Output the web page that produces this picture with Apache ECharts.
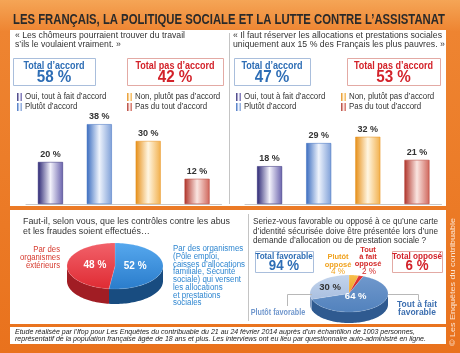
<!DOCTYPE html>
<html>
<head>
<meta charset="utf-8">
<script src="https://cdn.jsdelivr.net/npm/echarts@6/dist/echarts.min.js"></script>
<style>
html, body { margin: 0; padding: 0; background: #ec7a22; }
#chart { width: 460px; height: 353px; }
</style>
</head>
<body>
<div id="chart"></div>
<script>
// données du sondage
const titre = 'LES FRANÇAIS, LA POLITIQUE SOCIALE ET LA LUTTE CONTRE L’ASSISTANAT';
const reponses = ['Oui, tout à fait d’accord', 'Plutôt d’accord', 'Non, plutôt pas d’accord', 'Pas du tout d’accord'];
const totauxLibelles = ['Total d’accord', 'Total pas d’accord'];

const chomeursQuestion = ['« Les chômeurs pourraient trouver du travail', 's’ils le voulaient vraiment. »'];
const chomeursValeurs = [20, 38, 30, 12];
const chomeursTotaux = [58, 42];

const reserverQuestion = ['« Il faut réserver les allocations et prestations sociales', 'uniquement aux 15 % des Français les plus pauvres. »'];
const reserverValeurs = [18, 29, 32, 21];
const reserverTotaux = [47, 53];

const controlesQuestion = ['Faut-il, selon vous, que les contrôles contre les abus', 'et les fraudes soient effectués…'];
const controlesInternes = ['Par des organismes', '(Pôle emploi,', 'caisses d’allocations', 'familiale, Sécurité', 'sociale) qui versent', 'les allocations', 'et prestations', 'sociales'];
const controlesExternes = ['Par des', 'organismes', 'extérieurs'];
const controlesValeurs = [52, 48];

const carteQuestion = ['Seriez-vous favorable ou opposé à ce qu’une carte', 'd’identité sécurisée doive être présentée lors d’une', 'demande d’allocation ou de prestation sociale ?'];
const carteLibelles = ['Plutôt opposé', 'Tout à fait opposé', 'Tout à fait favorable', 'Plutôt favorable'];
const carteValeurs = [4, 2, 64, 30];
const carteTotaux = [94, 6];
const carteTotauxLibelles = ['Total favorable', 'Total opposé'];

const source = [
  'Etude réalisée par l’Ifop pour Les Enquêtes du contribuable du 21 au 24 février 2014 auprès d’un échantillon de 1003 personnes,',
  'représentatif de la population française âgée de 18 ans et plus. Les interviews ont eu lieu par questionnaire auto-administré en ligne.'
];
const copyright = '© Les Enquêtes du contribuable';

// styles
const FONT = '"Liberation Sans", Arial, sans-serif';
const BLEU = '#2d6db5';
const ROUGE = '#d3222a';
const barCouleurs = [
  ['#2c2774', '#f3f2fb', '#6a63ad'],
  ['#3a6cbf', '#eef3fc', '#7fa0d8'],
  ['#e68f18', '#fff6e2', '#f2b04c'],
  ['#b0352b', '#fae5e1', '#cf665b']
];

const ctx = document.createElement('canvas').getContext('2d');
function largeur(text, font) { ctx.font = font; return ctx.measureText(text).width; }

function texte(x, y, text, o) {
  const font = (o.italic ? 'italic ' : '') + (o.weight || 'normal') + ' ' + o.size + 'px ' + FONT;
  const sx = o.sx || (o.w ? o.w / largeur(text, font) : 1);
  const align = o.align || 'left';
  return {
    type: 'text', x: x, y: y, scaleX: sx, rotation: o.rot || 0, z: 50,
    style: { text: text, font: font, fill: o.color || '#333', textAlign: align, align: align, textVerticalAlign: 'middle', verticalAlign: 'middle' }
  };
}
function lignes(x, y0, dy, arr, o, ref) {
  const font = (o.italic ? 'italic ' : '') + (o.weight || 'normal') + ' ' + o.size + 'px ' + FONT;
  const sx = o.w ? o.w / largeur(arr[ref || 0], font) : 1;
  return arr.map((t, i) => texte(x, y0 + i * dy, t, Object.assign({}, o, { sx: sx })));
}
function rect(x, y, w, h, fill, stroke, z) {
  return { type: 'rect', z: z == null ? -5 : z, shape: { x: x, y: y, width: w, height: h }, style: { fill: fill, stroke: stroke || null, lineWidth: 1 } };
}
function ligne(points, color) {
  return { type: 'polyline', z: 40, shape: { points: points }, style: { stroke: color || '#b8b8b8', lineWidth: 1, fill: null } };
}
function degrade(c) {
  return new echarts.graphic.LinearGradient(0, 0, 1, 0, [
    { offset: 0, color: c[0] }, { offset: 0.5, color: c[1] }, { offset: 1, color: c[2] }
  ]);
}

function boite(x, y, w, h, libelle, valeur, couleur, bord, sizes) {
  return [
    rect(x + 0.5, y + 0.5, w, h, '#fff', bord, 30),
    texte(x + w / 2, y + sizes[2], libelle, { size: sizes[0], weight: 'bold', color: couleur, align: 'center', sx: 0.86 }),
    texte(x + w / 2, y + sizes[3], valeur + ' %', { size: sizes[1], weight: 'bold', color: couleur, align: 'center', sx: 0.95 })
  ];
}

function legende(x1, x2, y1, y2) {
  const pos = [[x1, y1], [x1, y2], [x2, y1], [x2, y2]];
  const out = [];
  reponses.forEach((r, i) => {
    out.push({ type: 'rect', z: 40, shape: { x: pos[i][0], y: pos[i][1] - 4, width: 5, height: 8 }, style: { fill: degrade(barCouleurs[i]) } });
    out.push(texte(pos[i][0] + 8, pos[i][1], r, { size: 8.5, color: '#333', sx: 0.93 }));
  });
  return out;
}

const g = [];
g.push(rect(0, 0, 460, 353, new echarts.graphic.LinearGradient(0, 0, 0, 1, [
  { offset: 0, color: '#f5a556' }, { offset: 0.09, color: '#ee8431' }, { offset: 1, color: '#e9721d' }
]), null, -10));
g.push(rect(10, 30, 436, 176, '#fff'));
g.push(rect(10, 210, 436, 114, '#fff'));
g.push(rect(10, 327, 436, 17, '#fff'));
g.push(ligne([[229.5, 33], [229.5, 204]], '#c4c4c4'));
g.push(ligne([[248.5, 214], [248.5, 321]], '#c4c4c4'));

g.push(texte(13, 20.5, titre, { size: 14, weight: 'bold', color: '#2a2a2a', w: 432 }));

// panneau haut gauche
g.push(...lignes(15, 35, 9, chomeursQuestion, { size: 9.5, color: '#333', w: 170 }));
g.push(...boite(13, 58, 82, 27, totauxLibelles[0], chomeursTotaux[0], BLEU, '#a9bedc', [10.5, 16, 8, 20]));
g.push(...boite(127, 58, 96, 27, totauxLibelles[1], chomeursTotaux[1], ROUGE, '#e3aaa4', [10.5, 16, 8, 20]));
g.push(...legende(17, 127, 97, 107));

// panneau haut droit
g.push(...lignes(233, 35, 9, reserverQuestion, { size: 9.5, color: '#333', w: 209 }));
g.push(...boite(234, 58, 76, 27, totauxLibelles[0], reserverTotaux[0], BLEU, '#a9bedc', [10.5, 16, 8, 20]));
g.push(...boite(347, 58, 93, 27, totauxLibelles[1], reserverTotaux[1], ROUGE, '#e3aaa4', [10.5, 16, 8, 20]));
g.push(...legende(236, 341, 97, 107));

// panneau bas gauche
g.push(...lignes(23, 221, 10.5, controlesQuestion, { size: 9.5, color: '#333', w: 207 }));
g.push(...lignes(60, 250, 8, controlesExternes, { size: 9, color: '#d63a2e', align: 'right', w: 40 }, 1));
g.push(...lignes(173, 249, 7.7, controlesInternes, { size: 8.5, color: '#2e86d0', w: 72 }, 2));

// panneau bas droit
g.push(...lignes(253, 221.5, 9.5, carteQuestion, { size: 9.5, color: '#333', w: 185 }, 1));
g.push(...boite(255, 251, 58, 21, carteTotauxLibelles[0], carteTotaux[0], BLEU, '#a9bedc', [9.5, 14, 5.5, 15]));
g.push(...boite(392, 251, 50, 21, carteTotauxLibelles[1], carteTotaux[1], ROUGE, '#e3aaa4', [9.5, 14, 5.5, 15]));
g.push(...lignes(338, 257, 7.5, ['Plutôt', 'opposé'], { size: 7.5, weight: 'bold', color: '#f0a21e', align: 'center', sx: 0.9 }));
g.push(texte(338, 272, carteValeurs[0] + ' %', { size: 9, color: '#f0a21e', align: 'center', sx: 0.9 }));
g.push(...lignes(368, 250, 7, ['Tout', 'à fait', 'opposé'], { size: 7.5, weight: 'bold', color: '#d42a2a', align: 'center', sx: 0.9 }));
g.push(texte(369, 272, carteValeurs[1] + ' %', { size: 9, color: '#d42a2a', align: 'center', sx: 0.9 }));
g.push(ligne([[312, 294.5], [287.5, 294.5], [287.5, 306]]));
g.push(ligne([[388, 294.5], [418.5, 294.5], [418.5, 300]]));
g.push(texte(278, 313, carteLibelles[3], { size: 8.5, weight: 'bold', color: '#7097cd', align: 'center', sx: 0.85 }));
g.push(...lignes(417, 305, 7.5, ['Tout à fait', 'favorable'], { size: 8.5, weight: 'bold', color: '#3d6fb0', align: 'center', sx: 0.85 }));

// source et copyright
g.push(...lignes(15, 331.5, 7, source, { size: 7.5, italic: true, color: '#222', w: 400 }));
g.push(texte(453, 346, copyright, { size: 7.5, color: '#fbe3cf', rot: Math.PI / 2, w: 128 }));

function barres(valeurs, idx) {
  return {
    type: 'bar', xAxisIndex: idx, yAxisIndex: idx, barWidth: 25, silent: true,
    data: valeurs.map((v, i) => ({ value: v, itemStyle: { color: degrade(barCouleurs[i]), borderColor: barCouleurs[i][0], borderWidth: 0.5 } })),
    label: { show: true, position: 'top', distance: 3, formatter: '{c} %', fontSize: 9, fontWeight: 'bold', color: '#333', fontFamily: FONT }
  };
}

// camembert en perspective
function camembert(valeurs, faces, cotes, geo, etiquettes) {
  const total = valeurs.reduce((a, b) => a + b, 0);
  const debuts = [];
  let acc = 0;
  valeurs.forEach(v => { debuts.push(acc); acc += v; });
  const pt = (a, dy) => [geo.cx + geo.rx * Math.cos(a), geo.cy - geo.ry * Math.sin(a) + dy];
  const arc = (a, b, dy) => {
    const n = Math.max(2, Math.ceil(Math.abs(b - a) / 0.04));
    const pts = [];
    for (let k = 0; k <= n; k++) pts.push(pt(a + (b - a) * k / n, dy));
    return pts;
  };
  return {
    type: 'custom', coordinateSystem: 'none', silent: true, z: 5,
    data: valeurs.map(v => [v]),
    renderItem: (params, api) => {
      const i = params.dataIndex;
      const a0 = Math.PI / 2 - debuts[i] / total * 2 * Math.PI;
      const a1 = a0 - api.value(0) / total * 2 * Math.PI;
      const children = [];
      [-1, 0].forEach(k => {
        const lo = Math.max(a1, -Math.PI + 2 * Math.PI * k);
        const hi = Math.min(a0, 2 * Math.PI * k);
        if (lo < hi) {
          children.push({ type: 'polygon', shape: { points: arc(hi, lo, 0).concat(arc(lo, hi, geo.h)) }, style: { fill: cotes[i] } });
        }
      });
      children.push({
        type: 'polygon',
        shape: { points: [[geo.cx, geo.cy]].concat(arc(a0, a1, 0)) },
        style: { fill: new echarts.graphic.LinearGradient(0, 0, 0, 1, [{ offset: 0, color: faces[i][0] }, { offset: 1, color: faces[i][1] }]), stroke: 'rgba(255,255,255,0.25)', lineWidth: 0.5 }
      });
      const e = etiquettes[i];
      if (e) {
        const m = (a0 + a1) / 2;
        children.push({
          type: 'text', z2: 10,
          style: {
            text: api.value(0) + ' %', x: geo.cx + geo.rx * e.r * Math.cos(m), y: geo.cy - geo.ry * e.r * Math.sin(m),
            fill: e.color, font: 'bold ' + e.size + 'px ' + FONT, textAlign: 'center', align: 'center', textVerticalAlign: 'middle', verticalAlign: 'middle'
          }
        });
      }
      return { type: 'group', children: children };
    }
  };
}

const chart = echarts.init(document.getElementById('chart'));
chart.setOption({
  animation: false,
  graphic: g,
  grid: [
    { left: 26, top: 120, width: 195.5, height: 84 },
    { left: 245, top: 120, width: 196.5, height: 84 }
  ],
  xAxis: [0, 1].map(i => ({
    type: 'category', gridIndex: i, data: reponses,
    axisLine: { lineStyle: { color: '#c8c8c8' } }, axisTick: { show: false }, axisLabel: { show: false }
  })),
  yAxis: [0, 1].map(i => ({ type: 'value', gridIndex: i, min: 0, max: 40, show: false })),
  series: [
    barres(chomeursValeurs, 0),
    barres(reserverValeurs, 1),
    camembert(controlesValeurs,
      [['#56a8ee', '#2a7ccb'], ['#f2616a', '#df2b33']],
      ['#184c80', '#a11d24'],
      { cx: 115, cy: 266, rx: 48, ry: 23, h: 15 },
      [{ r: 0.42, color: '#fff', size: 10 }, { r: 0.42, color: '#fff', size: 10 }]),
    camembert(carteValeurs,
      [['#f7c04e', '#f0a020'], ['#e43a3a', '#cc1c1c'], ['#7098cc', '#5282bd'], ['#c4d5ec', '#a9bfe0']],
      ['#c98a1a', '#9a1414', '#2f5a90', '#7d98bf'],
      { cx: 349, cy: 293.5, rx: 39, ry: 18.5, h: 11 },
      [null, null, { r: 0.25, color: '#fff', size: 9.5 }, { r: 0.6, color: '#333', size: 9.5 }])
  ]
});
</script>
</body>
</html>
